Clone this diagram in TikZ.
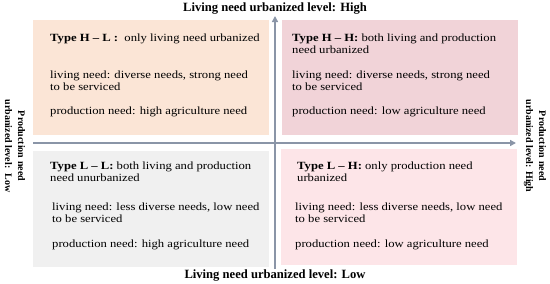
\documentclass[tikz,border=0pt]{standalone}
\usepackage{fontspec}
\setmainfont{Liberation Serif}
\newfontfamily\bodyfont[FakeStretch=1.15,Ligatures=TeX]{Liberation Serif}
\usetikzlibrary{arrows.meta}
\definecolor{peach}{HTML}{FBE5D6}
\definecolor{rose}{HTML}{F1D3D8}
\definecolor{greyq}{HTML}{F0F0F0}
\definecolor{pinkq}{HTML}{FDE5E8}
\definecolor{axisc}{HTML}{8A95A7}
\begin{document}
\begin{tikzpicture}[x=1pt,y=-1pt,
  body/.style={anchor=north west,inner sep=0,align=left,font=\bodyfont\fontsize{11}{11.8}\selectfont},
  title/.style={inner sep=0,font=\fontsize{12.6}{13}\selectfont\bfseries},
  side/.style={inner sep=0,rotate=-90,align=center,font=\fontsize{10}{13}\selectfont\bfseries},
  axis/.style={draw=axisc,line width=1.8pt,-{Triangle[length=6pt,width=6pt]}}]
\useasboundingbox (0,0) rectangle (550,284);
% quadrants
\fill[peach] (33,20) rectangle (269,135);
\fill[rose] (282,20) rectangle (518,135);
\fill[greyq] (33,151) rectangle (269,267);
\fill[pinkq] (281,149) rectangle (517,265);
% axes
\coordinate (vb) at (275,269);
\coordinate (vt) at (275,16);
\coordinate (hl) at (33,143);
\coordinate (hr) at (516,143);
\draw[axis] (vb) -- (vt);
\draw[axis] (hl) -- (hr);
% axis titles
\node[title] (top) at (275,9) {Living need urbanized level: High};
\node[title] (bot) at (275,276) {Living need urbanized level: Low};
\node[side] (left) at (15,146) {Production need\\urbanized level:\ \ Low};
\node[side] (right) at (535,146) {Production need\\urbanized level: High};
% TL
\node[body] (tl1) at (50,34) {\textbf{Type H – L :}\ \ only living need urbanized};
\node[body] (tl2) at (50,71) {living need: diverse needs, strong need\\to be serviced};
\node[body] (tl3) at (50,107) {production need: high agriculture need};
% TR
\node[body] (tr1) at (292,34) {\textbf{Type H – H:} both living and production\\need urbanized};
\node[body] (tr2) at (292,71) {living need: diverse needs, strong need\\to be serviced};
\node[body] (tr3) at (292,107) {production need: low agriculture need};
% BL
\node[body] (bl1) at (50,162) {\textbf{Type L – L:} both living and production\\need unurbanized};
\node[body] (bl2) at (52,203) {living need: less diverse needs, low need\\to be serviced};
\node[body] (bl3) at (52,240) {production need: high agriculture need};
% BR
\node[body] (br1) at (297,162) {\textbf{Type L – H:} only production need\\urbanized};
\node[body] (br2) at (295,203) {living need: less diverse needs, low need\\to be serviced};
\node[body] (br3) at (295,240) {production need: low agriculture need};
\end{tikzpicture}
\end{document}
